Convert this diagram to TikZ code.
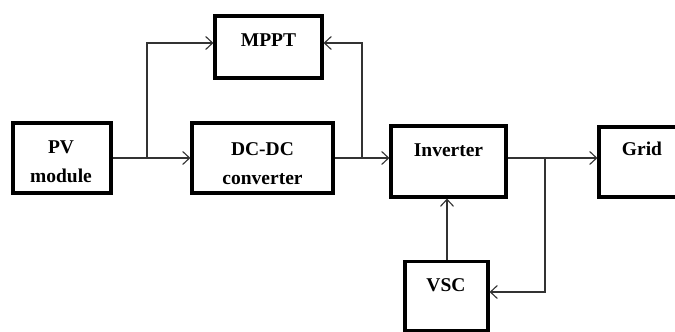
\documentclass[tikz,border=0pt]{standalone}
\usepackage{fontspec}
\setmainfont{Liberation Serif}
\usetikzlibrary{arrows.meta}
\begin{document}
\begin{tikzpicture}[x=1pt,y=-1pt,
  box/.style={draw, line width=3.1pt, inner sep=0pt},
  lbl/.style={font=\fontsize{19.5}{29}\selectfont\bfseries, align=center, inner sep=0pt},
  conn/.style={line width=1.1pt, draw=black!80},
  arr/.style={conn, -{Straight Barb[length=7pt,width=13pt,line width=1.1pt]}}]
\clip (0,0) rectangle (675,332);
\fill[white] (0,0) rectangle (675,332);
% boxes
\node[box, minimum width=98pt, minimum height=70pt] (pv) at (62,158) {};
\node[lbl] (pvt) at (61,162) {PV\\module};
\node[box, minimum width=107pt, minimum height=62pt] (mppt) at (268.5,47) {};
\node[lbl] (mpptt) at (268.5,40) {MPPT};
\node[box, minimum width=141pt, minimum height=70pt] (dcdc) at (262.5,158) {};
\node[lbl] (dcdct) at (262.5,164) {DC-DC\\converter};
\node[box, minimum width=115pt, minimum height=71pt] (inv) at (448.5,161.5) {};
\node[lbl] (invt) at (448.5,150) {Inverter};
\node[box, minimum width=101pt, minimum height=70pt] (grid) at (649.5,162) {};
\node[lbl] (gridt) at (642,149) {Grid};
\node[box, minimum width=83pt, minimum height=69pt] (vsc) at (446.5,296) {};
\node[lbl] (vsct) at (446,285) {VSC};
% junctions
\coordinate (j1) at (147,158);
\coordinate (j2) at (362,158);
\coordinate (j3) at (545,158);
% connectors
\draw[arr] (pv.east |- j1) -- (dcdc.west |- j1);
\draw[arr] (j1) -- (147,43) -- (mppt.west |- 0,43);
\draw[arr] (dcdc.east |- j2) -- (inv.west |- j2);
\draw[arr] (j2) -- (362,43) -- (mppt.east |- 0,43);
\draw[arr] (inv.east |- j3) -- (grid.west |- j3);
\draw[arr] (j3) -- (545,292) -- (vsc.east |- 0,292);
\draw[arr] (vsc.north -| 447,0) -- (inv.south -| 447,0);
\end{tikzpicture}
\end{document}
